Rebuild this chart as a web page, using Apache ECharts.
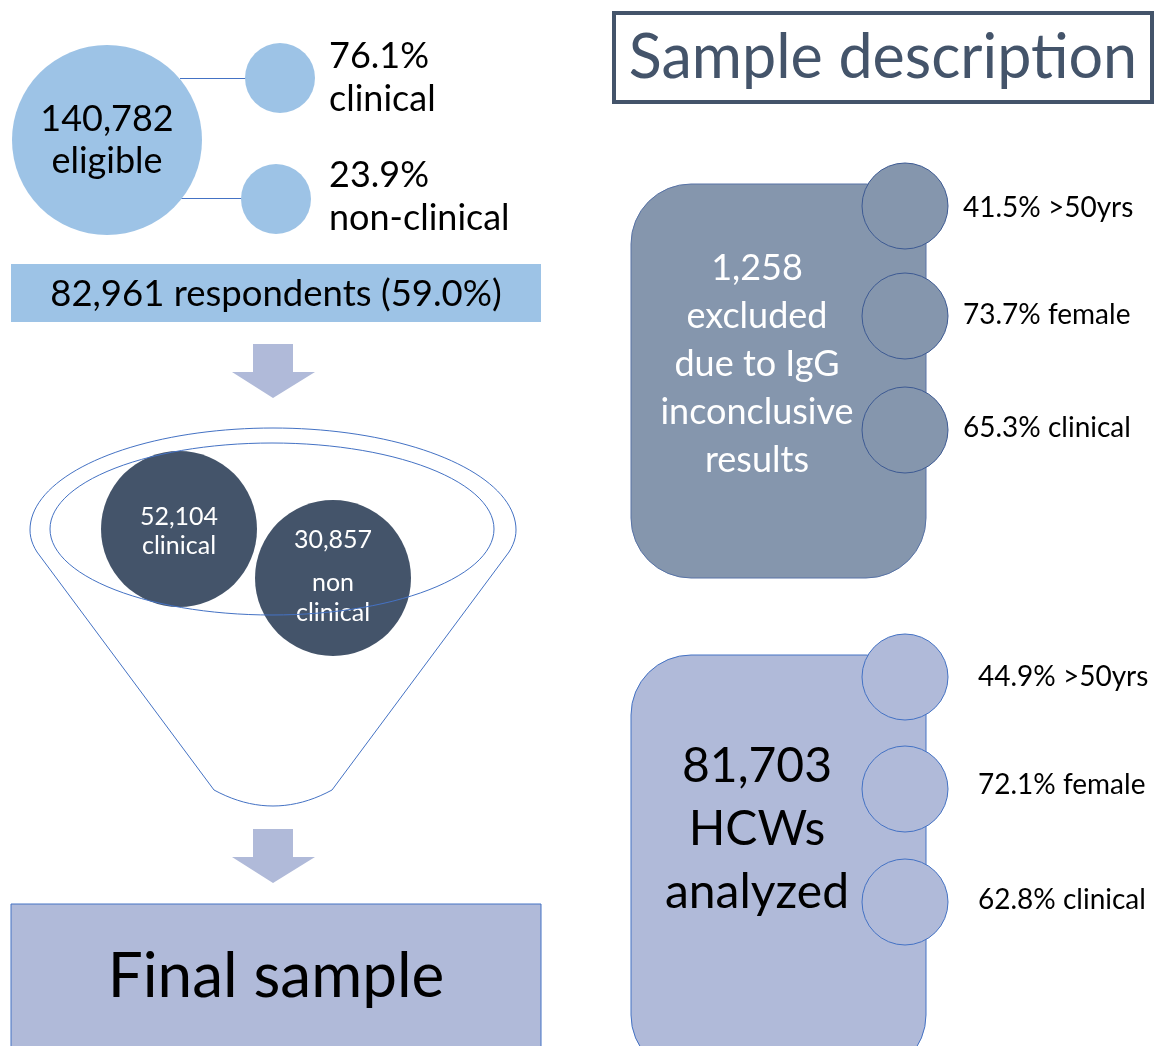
<!DOCTYPE html>
<html>
<head>
<meta charset="utf-8">
<script src="https://cdn.jsdelivr.net/npm/echarts@6/dist/echarts.min.js"></script>
<style>
  html, body { margin: 0; padding: 0; background: #fff; }
  #main { width: 1160px; height: 1046px; }
</style>
</head>
<body>
<div id="main"></div>
<script>
// figures
var eligibleCount = '140,782';
var staffShares = ['76.1%', '23.9%'];
var staffGroups = ['clinical', 'non-clinical'];
var respondentCount = '82,961';
var responseRate = '59.0%';
var respondentCounts = ['52,104', '30,857'];
var respondentGroups = ['clinical', 'non\nclinical'];
var excludedCount = '1,258';
var analyzedCount = '81,703';
var traitLabels = ['>50yrs', 'female', 'clinical'];
var excludedShares = ['41.5%', '73.7%', '65.3%'];
var analyzedShares = ['44.9%', '72.1%', '62.8%'];

var FONT = 'Lato, "Open Sans", sans-serif';
var lightBlue = '#9dc3e6';
var lavender = '#b0bad9';
var slate = '#8596ad';
var navy = '#44546a';
var edge = '#4472c4';

function txt(x, y, s, size, color, lh) {
    return {
        type: 'text',
        z: 20,
        style: {
            x: x, y: y, text: s,
            fontFamily: FONT, fontSize: size,
            fill: color || '#000',
            textAlign: 'center', textVerticalAlign: 'middle',
            lineHeight: lh || size * 1.2
        }
    };
}

function txtLeft(x, y, s, size) {
    var t = txt(x, y, s, size, '#000');
    t.style.textAlign = 'left';
    return t;
}

function arrow(top) {
    return {
        type: 'polygon',
        shape: {
            points: [[253, top], [293, top], [293, top + 28], [315, top + 28],
                     [273, top + 54], [232, top + 28], [253, top + 28]]
        },
        style: { fill: lavender }
    };
}

// points along an ellipse, angles in degrees (screen coords)
function arcPts(cx, cy, rx, ry, a0, a1, n) {
    var pts = [];
    for (var k = 0; k <= n; k++) {
        var a = (a0 + (a1 - a0) * k / n) * Math.PI / 180;
        pts.push([cx + rx * Math.cos(a), cy + ry * Math.sin(a)]);
    }
    return pts;
}

function quadPts(p0, c, p1, n) {
    var pts = [];
    for (var k = 0; k <= n; k++) {
        var t = k / n, u = 1 - t;
        pts.push([u * u * p0[0] + 2 * u * t * c[0] + t * t * p1[0],
                  u * u * p0[1] + 2 * u * t * c[1] + t * t * p1[1]]);
    }
    return pts;
}

var els = [];

// eligible block
els.push({ type: 'line', shape: { x1: 180, y1: 78.5, x2: 246, y2: 78.5 }, style: { stroke: edge, lineWidth: 1 } });
els.push({ type: 'line', shape: { x1: 180, y1: 198.5, x2: 242, y2: 198.5 }, style: { stroke: edge, lineWidth: 1 } });
els.push({ type: 'circle', shape: { cx: 107, cy: 140, r: 95 }, style: { fill: lightBlue } });
els.push({ type: 'circle', shape: { cx: 280, cy: 78, r: 35 }, style: { fill: lightBlue } });
els.push({ type: 'circle', shape: { cx: 276, cy: 199, r: 35 }, style: { fill: lightBlue } });
els.push(txt(107, 140, eligibleCount + '\neligible', 36, '#000', 42));
els.push(txtLeft(329, 78, staffShares[0] + '\n' + staffGroups[0], 36));
els.push(txtLeft(329, 197, staffShares[1] + '\n' + staffGroups[1], 36));

// respondents bar
els.push({ type: 'rect', shape: { x: 11, y: 264, width: 530, height: 58 }, style: { fill: lightBlue } });
els.push(txt(276, 294, respondentCount + ' respondents (' + responseRate + ')', 36.5));

els.push(arrow(344));

// funnel outline
var funnel = arcPts(273, 530, 243, 102, 180, 360, 80)
    .concat(quadPts([516, 530], [516, 541], [509, 552], 6))
    .concat(quadPts([332, 790], [273, 822], [214, 790], 20))
    .concat(quadPts([37, 552], [30, 541], [30, 530], 6));
els.push({
    type: 'polygon', z: 5,
    shape: { points: funnel },
    style: { fill: 'none', stroke: edge, lineWidth: 1 }
});
els.push({ type: 'circle', z: 10, shape: { cx: 179, cy: 529, r: 78 }, style: { fill: navy } });
els.push({ type: 'circle', z: 10, shape: { cx: 333, cy: 578, r: 78 }, style: { fill: navy } });
els.push(txt(179, 531, respondentCounts[0] + '\n' + respondentGroups[0], 25, '#fff', 29));
els.push(txt(333, 540, respondentCounts[1], 25, '#fff'));
els.push(txt(333, 598, respondentGroups[1], 25, '#fff', 30));
els.push({
    type: 'polygon', z: 30,
    shape: { points: arcPts(272, 529, 222, 86, 0, 360, 120) },
    style: { fill: 'none', stroke: edge, lineWidth: 1 }
});

els.push(arrow(829));

// final sample box
els.push({ type: 'rect', shape: { x: 11, y: 904, width: 530, height: 160 }, style: { fill: lavender, stroke: edge, lineWidth: 1 } });
els.push(txt(276, 977, 'Final sample', 62));

// title
els.push({ type: 'rect', shape: { x: 614, y: 13, width: 538, height: 89 }, style: { fill: '#fff', stroke: navy, lineWidth: 4 } });
els.push(txt(883, 58, 'Sample description', 61, navy));

// excluded card
els.push({ type: 'rect', shape: { x: 631, y: 184, width: 295, height: 394, r: 60 }, style: { fill: slate, stroke: '#5873a6', lineWidth: 1 } });
els.push(txt(757, 364, excludedCount + '\nexcluded\ndue to IgG\ninconclusive\nresults', 36, '#fff', 48));
var exY = [206, 316, 430];
var exTextY = [208, 315, 428];
for (var i = 0; i < 3; i++) {
    els.push({ type: 'circle', z: 12, shape: { cx: 905, cy: exY[i], r: 43 }, style: { fill: slate, stroke: '#3d5a93', lineWidth: 1 } });
    els.push(txtLeft(963, exTextY[i], excludedShares[i] + ' ' + traitLabels[i], 28));
}

// analyzed card
els.push({ type: 'rect', shape: { x: 631, y: 655, width: 295, height: 420, r: 60 }, style: { fill: lavender, stroke: edge, lineWidth: 1 } });
els.push(txt(757, 830, analyzedCount + '\nHCWs\nanalyzed', 48, '#000', 63));
var anY = [677, 789, 902];
var anTextY = [677, 785, 900];
for (var j = 0; j < 3; j++) {
    els.push({ type: 'circle', z: 12, shape: { cx: 905, cy: anY[j], r: 43 }, style: { fill: lavender, stroke: edge, lineWidth: 1 } });
    els.push(txtLeft(978, anTextY[j], analyzedShares[j] + ' ' + traitLabels[j], 28));
}

var myChart = echarts.init(document.getElementById('main'));
myChart.setOption({
    animation: false,
    backgroundColor: '#fff',
    graphic: { elements: els }
});
</script>
</body>
</html>
